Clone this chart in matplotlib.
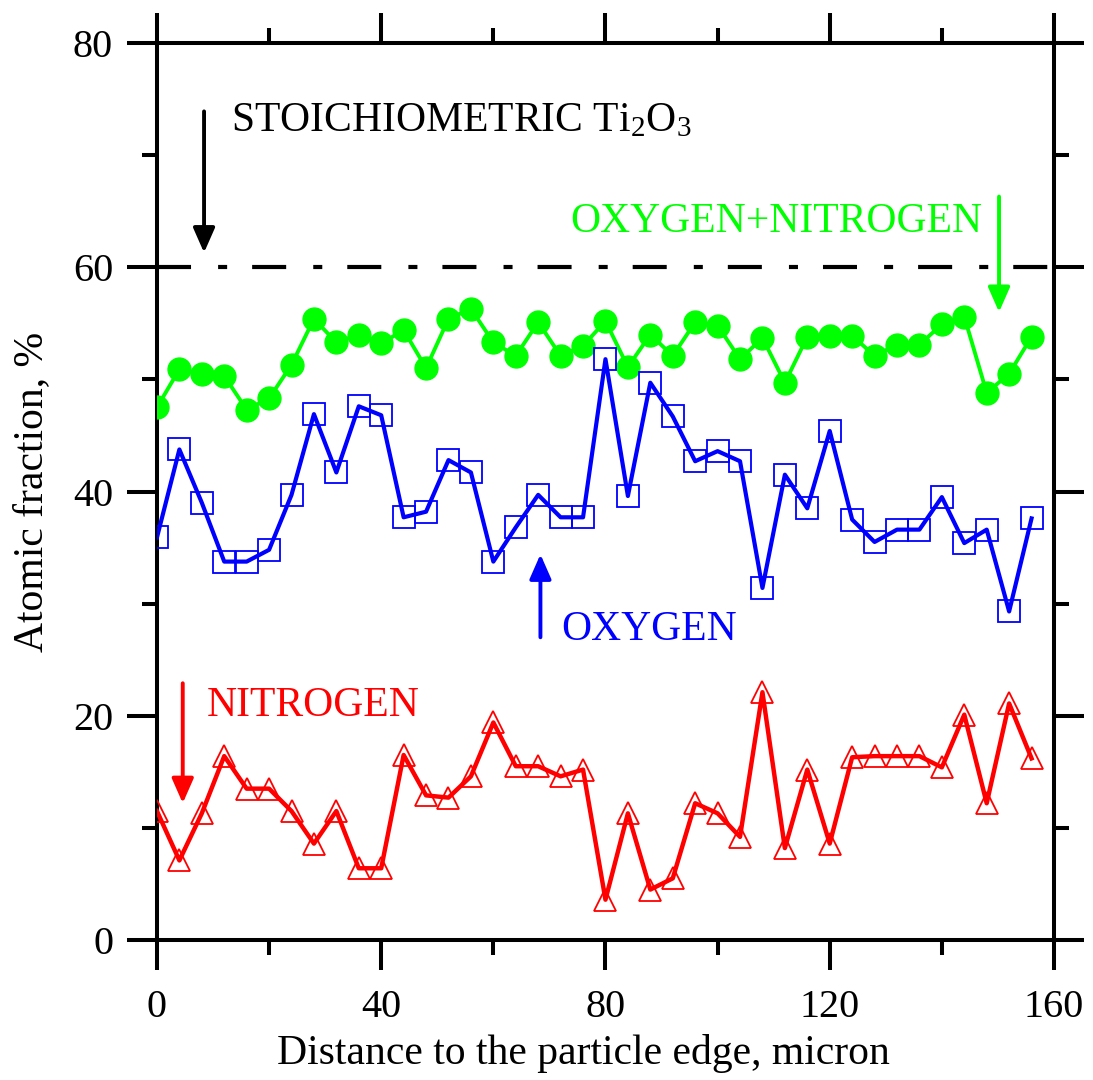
import matplotlib
matplotlib.use("Agg")
import matplotlib.pyplot as plt

plt.rcParams['font.family'] = ['Liberation Serif', 'DejaVu Serif']
plt.rcParams['mathtext.fontset'] = 'custom'
plt.rcParams['mathtext.rm'] = 'Liberation Serif'
plt.rcParams['mathtext.it'] = 'Liberation Serif:italic'
plt.rcParams['lines.scale_dashes'] = False

# distance from particle edge, micron
distance = [0, 4, 8, 12, 16, 20, 24, 28, 32, 36, 40, 44, 48, 52, 56, 60, 64, 68, 72, 76,
            80, 84, 88, 92, 96, 100, 104, 108, 112, 116, 120, 124, 128, 132, 136, 140, 144, 148, 152, 156]

# atomic fractions, %
oxygen_nitrogen = [47.5, 50.9, 50.5, 50.3, 47.3, 48.3, 51.3, 55.4, 53.3, 54.0, 53.2, 54.4, 51.0, 55.4, 56.3,
                   53.3, 52.1, 55.1, 52.1, 53.0, 55.2, 51.1, 54.0, 52.1, 55.1, 54.8, 51.8, 53.7, 49.7, 53.8,
                   53.9, 53.9, 52.1, 53.1, 53.1, 54.9, 55.6, 48.8, 50.5, 53.8]
oxygen = [35.9, 43.75, 39.0, 33.75, 33.75, 34.8, 39.7, 46.9, 41.7, 47.6, 46.8, 37.7, 38.2, 42.8, 41.7,
          33.75, 36.8, 39.7, 37.7, 37.7, 51.8, 39.6, 49.7, 46.7, 42.7, 43.6, 42.7, 31.4, 41.5, 38.5,
          45.4, 37.5, 35.5, 36.6, 36.6, 39.5, 35.4, 36.6, 29.3, 37.6]
nitrogen = [11.5, 7.1, 11.3, 16.4, 13.5, 13.5, 11.5, 8.6, 11.5, 6.4, 6.4, 16.5, 12.9, 12.7, 14.6,
            19.4, 15.5, 15.5, 14.6, 15.2, 3.6, 11.3, 4.5, 5.5, 12.2, 11.3, 9.2, 22.1, 8.2, 15.2,
            8.6, 16.3, 16.4, 16.4, 16.4, 15.4, 20.1, 12.2, 21.1, 16.2]

stoich_level = 60
x_ticks = [0, 40, 80, 120, 160]
y_ticks = [0, 20, 40, 60, 80]

GREEN = '#00ff00'
BLUE = '#0000ff'
RED = '#ff0000'
FS = 30

fig = plt.figure(figsize=(10.93, 10.80), dpi=100)
ax = fig.add_axes([0.1436, 0.1296, 0.8207, 0.8306])

ax.plot(distance, oxygen_nitrogen, color=GREEN, lw=2.8, marker='o', ms=16.5,
        mfc=GREEN, mec=GREEN, zorder=3)
ax.plot(distance, oxygen, color=BLUE, lw=3.0, marker='s', ms=15.5, mfc='none',
        mec=BLUE, mew=1.3, zorder=3)
ax.plot(distance, nitrogen, color=RED, lw=3.2, marker='^', ms=16, mfc='none',
        mec=RED, mew=1.3, zorder=3)

ax.axhline(stoich_level, color='black', lw=3, dashes=(24.5, 19.5, 6.5, 18), zorder=2)

arrow = dict(arrowstyle='-|>,head_length=0.75,head_width=0.33', mutation_scale=20,
             shrinkA=0, shrinkB=0)
ax.annotate('', xy=(8.4, 61.3), xytext=(8.4, 73.9),
            arrowprops=dict(color='black', lw=2.8, **arrow))
ax.text(13.2, 72.1, 'STOICHIOMETRIC Ti$_2$O$_3$', fontsize=FS, color='black')

ax.annotate('', xy=(150.2, 56.0), xytext=(150.2, 66.3),
            arrowprops=dict(color=GREEN, lw=2.8, **arrow))
ax.text(73.75, 63.1, 'OXYGEN+NITROGEN', fontsize=FS, color=GREEN)

ax.annotate('', xy=(68.4, 34.4), xytext=(68.4, 27.0),
            arrowprops=dict(color=BLUE, lw=2.8, **arrow))
ax.text(72.1, 26.8, 'OXYGEN', fontsize=FS, color=BLUE)

ax.annotate('', xy=(4.6, 12.2), xytext=(4.6, 22.9),
            arrowprops=dict(color=RED, lw=2.8, **arrow))
ax.text(8.9, 20.0, 'NITROGEN', fontsize=FS, color=RED)

ax.set_xlim(0, 160)
ax.set_ylim(0, 80)
ax.set_xticks(x_ticks)
ax.set_yticks(y_ticks)
ax.set_xticks([20, 60, 100, 140], minor=True)
ax.set_yticks([10, 30, 50, 70], minor=True)
ax.tick_params(which='both', direction='out', top=True, right=True, width=2.9,
               labelsize=29)
ax.tick_params(which='major', length=21.6, pad=10)
ax.tick_params(axis='x', which='major', pad=14)
ax.tick_params(which='minor', length=10.8)
for sp in ax.spines.values():
    sp.set_linewidth(2.9)

ax.set_xlabel('Distance to the particle edge, micron', fontsize=FS)
ax.set_ylabel('Atomic fraction, %', fontsize=FS)
ax.xaxis.set_label_coords(0.475, -0.105)
ax.yaxis.set_label_coords(-0.118, 0.5)

fig.savefig('out.png', dpi=100)
